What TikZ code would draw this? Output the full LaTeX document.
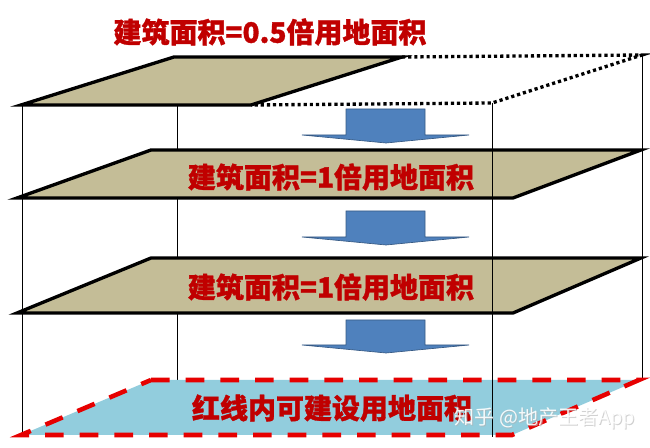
\documentclass[tikz,border=0pt]{standalone}
\usepackage{fontspec}
\newfontfamily\cjk{Noto Sans CJK SC}[BoldFeatures={FakeBold=1.2}]
\definecolor{slabtan}{RGB}{196,189,151}
\definecolor{arrowblue}{RGB}{79,129,189}
\definecolor{landblue}{RGB}{146,205,221}
\definecolor{labelred}{RGB}{192,0,0}
\definecolor{dashred}{RGB}{230,0,0}
\tikzset{
  slab/.style={draw=black, line width=2.5pt, fill=slabtan, line join=miter},
  arealabel/.style={text=labelred, inner sep=0pt, font=\cjk\bfseries\fontsize{21}{21}\selectfont},
  downarrow/.style={fill=arrowblue, draw=arrowblue!70!black, line width=0.5pt},
  post/.style={draw=black, line width=0.6pt}
}
\begin{document}
\begin{tikzpicture}[x=0.75pt, y=-0.75pt]
\useasboundingbox (0,0) rectangle (650,448);

\draw[post] (22,105) -- (22,436);
\draw[post] (177,105) -- (177,380);
\draw[post] (642,55) -- (642,380);

\foreach \t/\m/\e in {109/135/143, 211/237/245, 320/345/353}
  {\draw[downarrow] (346,\t) -- (425,\t) -- (425,\m) -- (469,\m) -- (386,\e) -- (302,\m) -- (346,\m) -- cycle;}

\draw[slab] (21,105) -- (174,57) -- (402,57) -- (251,105) -- cycle;
\draw[line width=2.5pt, dash pattern=on 2.4pt off 2.2pt] (402,57) -- (642,55) -- (492,103) -- (251,105);

\foreach \t/\b in {150/198, 258/313}
  {\draw[slab] (151,\t) -- (641,\t) -- (513,\b) -- (17,\b) -- cycle;}

\fill[landblue] (151,380) -- (639,380) -- (512,435) -- (21,435) -- cycle;
\draw[dashred, line width=3.4pt, dash pattern=on 14pt off 12pt] (151,380) -- (639,380) -- (512,435) -- (21,435) -- cycle;

\draw[post] (492,103) -- (492,437);

\node[arealabel] (title) at (270,32) {建筑面积=0.5倍用地面积};
\node[arealabel] (floorone) at (331,177) {建筑面积=1倍用地面积};
\node[arealabel] (floortwo) at (331,287) {建筑面积=1倍用地面积};
\node[arealabel] (landarea) at (332,408) {红线内可建设用地面积};
\node[text=gray!60, opacity=0.6, inner sep=0pt, font=\cjk\fontsize{15}{15}\selectfont] (shadow) at (546,419) {知乎 @地产王者App};
\node[text=white, opacity=0.9, inner sep=0pt, font=\cjk\fontsize{15}{15}\selectfont] (watermark) at (545,418) {知乎 @地产王者App};

\end{tikzpicture}
\end{document}
